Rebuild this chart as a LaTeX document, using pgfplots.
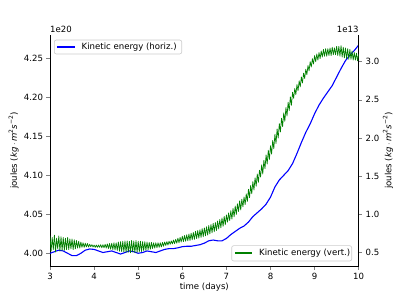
\documentclass[border=0pt]{standalone}
\usepackage{pgfplots}
\pgfplotsset{compat=1.18}
\usepackage{fontspec}
\setmainfont{DejaVu Sans}
\colorlet{mplgreen}{green!50!black}
\definecolor{legframe}{rgb}{0.8,0.8,0.8}
\begin{document}
\begin{tikzpicture}[font=\fontsize{8.6}{10}\selectfont]
\pgfplotsset{
  commonstyle/.style={
    scale only axis, width=308.7bp, height=231bp,
    at={(0,0)}, anchor=south west,
    xmin=3, xmax=10,
    tick align=outside, major tick length=3.5bp,
    tick style={line width=0.6bp},
    axis line style={line width=0.7bp},
    /pgf/number format/assume math mode=true,
  }
}
\begin{axis}[commonstyle,
  ymin=3.9837, ymax=4.2799,
  axis y line*=left, axis x line*=bottom,
  xtick={3,4,5,6,7,8,9,10},
  ytick={4.00,4.05,4.10,4.15,4.20,4.25},
  yticklabel style={/pgf/number format/.cd, fixed, zerofill, precision=2},
  xticklabel style={/pgf/number format/.cd, fixed, precision=0},
  xlabel={time (days)},
  ylabel={joules (\textit{kg}\,$\cdot$\,\textit{m}\textsuperscript{2}\textit{s}\textsuperscript{−2})},
  xlabel style={at={(axis description cs:0.5,-0.093)}, anchor=center},
  ylabel style={at={(axis description cs:-0.118,0.5)}, anchor=center},
]
\addplot[color=blue, line width=1.1pt] coordinates {
(3.0,4.000)(3.1,4.002)(3.2,4.004)(3.3,4.003)(3.4,4.000)(3.5,3.997)(3.6,3.997)(3.7,4.000)(3.8,4.004)(3.9,4.0055)
(4.0,4.005)(4.1,4.003)(4.2,4.001)(4.3,4.002)(4.4,4.003)(4.5,4.001)(4.6,3.999)(4.7,4.001)(4.8,4.003)(4.9,4.002)
(5.0,4.000)(5.1,4.001)(5.2,4.003)(5.3,4.002)(5.4,4.001)(5.5,4.003)(5.6,4.005)(5.7,4.006)(5.8,4.006)(5.9,4.007)
(6.0,4.0085)(6.1,4.009)(6.2,4.009)(6.3,4.010)(6.4,4.011)(6.5,4.013)(6.6,4.016)(6.7,4.017)(6.8,4.016)(6.9,4.016)
(7.0,4.019)(7.1,4.024)(7.2,4.028)(7.3,4.032)(7.4,4.035)(7.5,4.040)(7.6,4.047)(7.7,4.052)(7.8,4.057)(7.9,4.063)
(8.0,4.072)(8.1,4.085)(8.2,4.094)(8.3,4.100)(8.4,4.106)(8.5,4.115)(8.6,4.128)(8.7,4.142)(8.8,4.155)(8.9,4.166)
(9.0,4.179)(9.1,4.190)(9.2,4.199)(9.3,4.207)(9.4,4.215)(9.5,4.226)(9.6,4.237)(9.7,4.247)(9.8,4.254)(9.9,4.260)
(10.0,4.267)
};
\end{axis}
\begin{axis}[commonstyle,
  ymin=0.326, ymax=3.349,
  axis y line*=right, axis x line=none,
  ytick={0.5,1.0,1.5,2.0,2.5,3.0},
  yticklabel style={/pgf/number format/.cd, fixed, zerofill, precision=1},
  ylabel={joules (\textit{kg}\,$\cdot$\,\textit{m}\textsuperscript{2}\textit{s}\textsuperscript{−2})},
  ylabel style={at={(axis description cs:1.095,0.5)}, anchor=center, rotate=0},
]
\addplot[color=mplgreen, line width=0.7pt, line join=round] coordinates {
(3.000,0.72)(3.025,0.52)(3.050,0.70)(3.075,0.54)(3.100,0.73)(3.125,0.51)(3.150,0.69)(3.175,0.55)(3.200,0.72)(3.225,0.52)
(3.250,0.71)(3.275,0.53)(3.300,0.70)(3.325,0.53)(3.350,0.69)(3.375,0.54)(3.400,0.70)(3.425,0.54)(3.450,0.68)(3.475,0.55)
(3.500,0.68)(3.525,0.54)(3.550,0.67)(3.575,0.55)(3.600,0.66)(3.625,0.56)(3.650,0.65)(3.675,0.56)(3.700,0.64)(3.725,0.57)
(3.750,0.63)(3.775,0.57)(3.800,0.625)(3.825,0.575)(3.850,0.62)(3.875,0.575)(3.900,0.61)(3.925,0.58)(3.950,0.605)(3.975,0.575)
(4.000,0.60)(4.025,0.57)(4.050,0.60)(4.075,0.57)(4.100,0.60)(4.125,0.57)(4.150,0.605)(4.175,0.565)(4.200,0.605)(4.225,0.565)
(4.250,0.61)(4.275,0.56)(4.300,0.615)(4.325,0.555)(4.350,0.62)(4.375,0.545)(4.400,0.625)(4.425,0.54)(4.450,0.63)(4.475,0.535)
(4.500,0.63)(4.525,0.53)(4.550,0.64)(4.575,0.52)(4.600,0.645)(4.625,0.515)(4.650,0.65)(4.675,0.51)(4.700,0.655)(4.725,0.505)
(4.750,0.655)(4.775,0.505)(4.800,0.65)(4.825,0.50)(4.850,0.66)(4.875,0.51)(4.900,0.655)(4.925,0.50)(4.950,0.66)(4.975,0.505)
(5.000,0.65)(5.025,0.51)(5.050,0.65)(5.075,0.515)(5.100,0.645)(5.125,0.525)(5.150,0.645)(5.175,0.53)(5.200,0.64)(5.225,0.54)
(5.250,0.635)(5.275,0.545)(5.300,0.635)(5.325,0.555)(5.350,0.63)(5.375,0.56)(5.400,0.63)(5.425,0.565)(5.450,0.63)(5.475,0.57)
(5.500,0.63)(5.525,0.575)(5.550,0.635)(5.575,0.585)(5.600,0.64)(5.625,0.595)(5.650,0.645)(5.675,0.60)(5.700,0.65)(5.725,0.61)
(5.750,0.655)(5.775,0.615)(5.800,0.665)(5.825,0.62)(5.850,0.675)(5.875,0.625)(5.900,0.69)(5.925,0.63)(5.950,0.70)(5.975,0.64)
(6.000,0.715)(6.025,0.645)(6.050,0.725)(6.075,0.65)(6.100,0.735)(6.125,0.655)(6.150,0.745)(6.175,0.66)(6.200,0.755)(6.225,0.67)
(6.250,0.765)(6.275,0.675)(6.300,0.78)(6.325,0.685)(6.350,0.79)(6.375,0.69)(6.400,0.80)(6.425,0.70)(6.450,0.815)(6.475,0.71)
(6.500,0.825)(6.525,0.72)(6.550,0.84)(6.575,0.73)(6.600,0.855)(6.625,0.745)(6.650,0.87)(6.675,0.76)(6.700,0.885)(6.725,0.775)
(6.750,0.895)(6.775,0.79)(6.800,0.915)(6.825,0.81)(6.850,0.935)(6.875,0.825)(6.900,0.955)(6.925,0.845)(6.950,0.975)(6.975,0.865)
(7.000,0.995)(7.025,0.90)(7.050,1.02)(7.075,0.92)(7.100,1.05)(7.125,0.94)(7.150,1.08)(7.175,0.97)(7.200,1.11)(7.225,1.00)
(7.250,1.14)(7.275,1.04)(7.300,1.18)(7.325,1.06)(7.350,1.20)(7.375,1.10)(7.400,1.23)(7.425,1.13)(7.450,1.27)(7.475,1.17)
(7.500,1.33)(7.525,1.22)(7.550,1.38)(7.575,1.27)(7.600,1.43)(7.625,1.32)(7.650,1.48)(7.675,1.37)(7.700,1.53)(7.725,1.42)
(7.750,1.58)(7.775,1.49)(7.800,1.65)(7.825,1.53)(7.850,1.71)(7.875,1.60)(7.900,1.78)(7.925,1.66)(7.950,1.84)(7.975,1.72)
(8.000,1.90)(8.025,1.79)(8.050,1.97)(8.075,1.86)(8.100,2.05)(8.125,1.93)(8.150,2.12)(8.175,2.00)(8.200,2.19)(8.225,2.08)
(8.250,2.26)(8.275,2.15)(8.300,2.33)(8.325,2.22)(8.350,2.40)(8.375,2.29)(8.400,2.47)(8.425,2.36)(8.450,2.54)(8.475,2.43)
(8.500,2.60)(8.525,2.52)(8.550,2.65)(8.575,2.57)(8.600,2.70)(8.625,2.62)(8.650,2.75)(8.675,2.67)(8.700,2.80)(8.725,2.72)
(8.750,2.85)(8.775,2.78)(8.800,2.90)(8.825,2.83)(8.850,2.95)(8.875,2.88)(8.900,3.00)(8.925,2.93)(8.950,3.04)(8.975,2.97)
(9.000,3.08)(9.025,3.00)(9.050,3.10)(9.075,3.02)(9.100,3.12)(9.125,3.04)(9.150,3.14)(9.175,3.06)(9.200,3.16)(9.225,3.07)
(9.250,3.17)(9.275,3.07)(9.300,3.17)(9.325,3.08)(9.350,3.18)(9.375,3.08)(9.400,3.19)(9.425,3.09)(9.450,3.18)(9.475,3.09)
(9.500,3.20)(9.525,3.08)(9.550,3.20)(9.575,3.07)(9.600,3.21)(9.625,3.06)(9.650,3.19)(9.675,3.05)(9.700,3.18)(9.725,3.04)
(9.750,3.17)(9.775,3.03)(9.800,3.16)(9.825,3.03)(9.850,3.14)(9.875,3.02)(9.900,3.12)(9.925,3.02)(9.950,3.11)(9.975,3.01)
(10.000,3.10)
};
\end{axis}
% legends
\draw[legframe, fill=white, line width=0.6bp, rounded corners=2bp] (4.3bp,212bp) rectangle (131.7bp,226bp);
\fill[blue] (7.3bp,218.4bp) rectangle (25bp,219.6bp);
\node[anchor=west, inner sep=0pt] at (31.5bp,219bp) {Kinetic energy (horiz.)};
\draw[legframe, fill=white, line width=0.6bp, rounded corners=2bp] (181.7bp,5bp) rectangle (301.7bp,20.3bp);
\fill[mplgreen] (184.5bp,11.9bp) rectangle (202.3bp,13.5bp);
\node[anchor=west, inner sep=0pt] at (209bp,12.7bp) {Kinetic energy (vert.)};
\node[anchor=south west, inner sep=0pt] at (0bp,233bp) {1e20};
\node[anchor=south east, inner sep=0pt] at (308.7bp,233bp) {1e13};
\path[use as bounding box] (-50bp,-33bp) rectangle (349bp,266bp);
\end{tikzpicture}
\end{document}
